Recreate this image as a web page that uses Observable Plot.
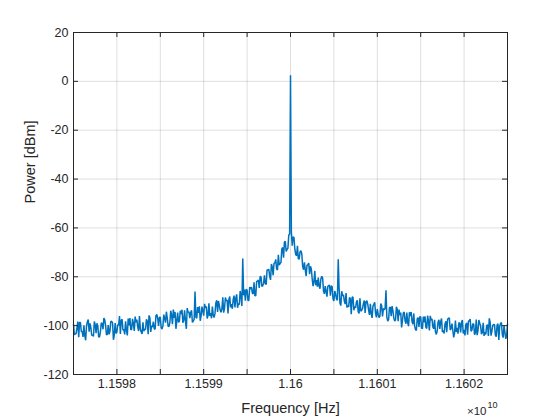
<!DOCTYPE html>
<html><head><meta charset="utf-8">
<script src="https://cdn.jsdelivr.net/npm/d3@7"></script>
<script src="https://cdn.jsdelivr.net/npm/@observablehq/plot@0.6"></script>
<style>body{margin:0;background:#fff}</style>
</head><body><div id="chart"></div>
<script>
const centerHz = 1.16e10;
// samples on the even 20 kHz grid (plus the spur at ±550 kHz)
const offsetKHz = [
-2500,-2480,-2460,-2440,-2420,-2400,-2380,-2360,-2340,-2320,
-2300,-2280,-2260,-2240,-2220,-2200,-2180,-2160,-2140,-2120,
-2100,-2080,-2060,-2040,-2020,-2000,-1980,-1960,-1940,-1920,
-1900,-1880,-1860,-1840,-1820,-1800,-1780,-1760,-1740,-1720,
-1700,-1680,-1660,-1640,-1620,-1600,-1580,-1560,-1540,-1520,
-1500,-1480,-1460,-1440,-1420,-1400,-1380,-1360,-1340,-1320,
-1300,-1280,-1260,-1240,-1220,-1200,-1180,-1160,-1140,-1120,
-1100,-1080,-1060,-1040,-1020,-1000,-980,-960,-940,-920,
-900,-880,-860,-840,-820,-800,-780,-760,-740,-720,
-700,-680,-660,-640,-620,-600,-580,-560,-550,-540,-520,
-500,-480,-460,-440,-420,-400,-380,-360,-340,-320,
-300,-280,-260,-240,-220,-200,-180,-160,-140,-120,
-100,-80,-60,-40,-20,
0,
20,40,60,80,100,
120,140,160,180,200,220,240,260,280,300,
320,340,360,380,400,420,440,460,480,500,
520,540,550,560,580,600,620,640,660,680,700,
720,740,760,780,800,820,840,860,880,900,
920,940,960,980,1000,1020,1040,1060,1080,1100,
1120,1140,1160,1180,1200,1220,1240,1260,1280,1300,
1320,1340,1360,1380,1400,1420,1440,1460,1480,1500,
1520,1540,1560,1580,1600,1620,1640,1660,1680,1700,
1720,1740,1760,1780,1800,1820,1840,1860,1880,1900,
1920,1940,1960,1980,2000,2020,2040,2060,2080,2100,
2120,2140,2160,2180,2200,2220,2240,2260,2280,2300,
2320,2340,2360,2380,2400,2420,2440,2460,2480,2500
];
const powerDbm = [
-99.4,-103.3,-100.9,-104.7,-98.8,-102.4,-99.9,-106.0,-98.4,-102.5,
-100.8,-103.8,-98.3,-103.1,-100.1,-104.6,-98.9,-101.5,-97.6,-103.8,
-99.8,-102.2,-98.3,-105.8,-98.9,-102.6,-99.8,-103.4,-97.4,-101.5,
-98.2,-104.0,-99.9,-101.7,-97.2,-102.2,-98.6,-100.5,-96.1,-102.6,
-98.6,-101.5,-97.4,-103.5,-96.8,-100.0,-98.4,-101.5,-95.4,-100.1,
-96.6,-101.4,-95.5,-98.8,-96.8,-100.4,-93.9,-99.4,-96.8,-101.3,
-94.6,-98.1,-95.3,-98.8,-93.7,-101.3,-94.6,-96.9,-93.7,-98.1,
-86.0,-97.0,-94.8,-98.0,-92.2,-95.9,-92.7,-97.1,-90.9,-94.9,
-92.2,-96.7,-90.7,-94.4,-91.6,-94.5,-88.4,-92.8,-89.8,-95.0,
-88.1,-91.2,-89.2,-92.5,-87.2,-90.9,-85.8,-92.0,-72.5,-87.6,-89.8,
-85.4,-89.7,-85.1,-86.6,-82.3,-87.7,-81.9,-84.6,-80.0,-83.7,
-79.4,-83.1,-77.2,-79.7,-74.8,-79.4,-74.3,-76.8,-71.0,-74.6,
-68.6,-72.2,-65.5,-68.8,-63.0,
2.5,
-67.3,-63.9,-70.8,-67.3,-72.8,
-69.3,-75.7,-74.1,-79.7,-75.0,-78.9,-76.8,-83.8,-77.6,-81.4,
-80.3,-84.9,-79.8,-85.7,-83.8,-88.1,-83.6,-87.7,-84.1,-89.9,
-87.1,-89.6,-72.8,-84.7,-91.8,-87.8,-89.9,-86.7,-91.8,-88.4,-95.3,
-88.3,-92.1,-90.3,-94.4,-88.8,-93.6,-90.9,-94.8,-89.8,-93.7,
-91.1,-96.8,-91.3,-95.0,-93.2,-96.7,-91.0,-96.2,-93.5,-85.5,
-98.1,-92.7,-96.1,-93.9,-98.1,-92.3,-98.2,-95.6,-100.7,-94.8,
-98.0,-94.6,-100.2,-96.1,-98.3,-95.0,-101.6,-97.2,-100.5,-96.4,
-101.2,-98.7,-100.7,-95.9,-102.0,-97.7,-100.5,-97.6,-103.6,-98.5,
-101.3,-97.1,-102.0,-99.3,-102.7,-97.0,-101.8,-99.2,-104.8,-97.9,
-100.9,-98.7,-102.8,-97.7,-101.7,-99.6,-103.7,-98.0,-102.3,-99.3,
-103.7,-97.5,-102.0,-99.0,-103.5,-98.8,-102.7,-100.0,-104.2,-98.6,
-102.3,-99.5,-103.8,-99.8,-105.9,-99.1,-103.6,-100.0,-105.4,-99.3
];
// samples on the odd 10 kHz positions in between
const offsetKHzB = [
-2490,-2470,-2450,-2430,-2410,-2390,-2370,-2350,-2330,-2310,
-2290,-2270,-2250,-2230,-2210,-2190,-2170,-2150,-2130,-2110,
-2090,-2070,-2050,-2030,-2010,-1990,-1970,-1950,-1930,-1910,
-1890,-1870,-1850,-1830,-1810,-1790,-1770,-1750,-1730,-1710,
-1690,-1670,-1650,-1630,-1610,-1590,-1570,-1550,-1530,-1510,
-1490,-1470,-1450,-1430,-1410,-1390,-1370,-1350,-1330,-1310,
-1290,-1270,-1250,-1230,-1210,-1190,-1170,-1150,-1130,-1110,
-1090,-1070,-1050,-1030,-1010,-990,-970,-950,-930,-910,
-890,-870,-850,-830,-810,-790,-770,-750,-730,-710,
-690,-670,-650,-630,-610,-590,-570,-530,-510,
-490,-470,-450,-430,-410,-390,-370,-350,-330,-310,
-290,-270,-250,-230,-210,-190,-170,-150,-130,-110,
-90,-70,-50,-30,-10,
10,30,50,70,90,
110,130,150,170,190,210,230,250,270,290,
310,330,350,370,390,410,430,450,470,490,
510,530,570,590,610,630,650,670,690,
710,730,750,770,790,810,830,850,870,890,
910,930,950,970,990,1010,1030,1050,1070,1090,
1110,1130,1150,1170,1190,1210,1230,1250,1270,1290,
1310,1330,1350,1370,1390,1410,1430,1450,1470,1490,
1510,1530,1550,1570,1590,1610,1630,1650,1670,1690,
1710,1730,1750,1770,1790,1810,1830,1850,1870,1890,
1910,1930,1950,1970,1990,2010,2030,2050,2070,2090,
2110,2130,2150,2170,2190,2210,2230,2250,2270,2290,
2310,2330,2350,2370,2390,2410,2430,2450,2470,2490
];
const powerDbmB = [
-103.8,-103.3,-98.3,-98.6,-102.4,-104.6,-104.1,-100.2,-97.5,-99.1,
-104.0,-104.4,-99.6,-99.0,-104.7,-102.5,-99.1,-96.9,-100.0,-103.6,
-103.6,-98.2,-98.9,-103.9,-103.2,-99.6,-96.1,-97.9,-101.9,-103.6,
-101.8,-97.1,-96.9,-101.5,-99.1,-96.3,-97.5,-102.2,-101.4,-103.4,
-102.3,-101.6,-98.1,-95.8,-102.6,-100.6,-101.2,-95.9,-96.9,-96.6,
-100.8,-100.1,-96.9,-94.3,-100.2,-98.8,-95.7,-93.4,-94.4,-98.1,
-98.7,-93.9,-93.5,-97.7,-98.3,-92.8,-94.3,-94.7,-98.7,-97.4,
-96.6,-92.4,-92.1,-96.0,-93.9,-91.1,-92.1,-95.9,-96.0,-97.0,
-95.7,-95.0,-89.6,-89.9,-93.7,-93.0,-94.7,-88.5,-89.5,-89.3,
-92.5,-93.1,-87.7,-88.8,-92.7,-91.4,-87.7,-85.2,-85.1,
-89.7,-84.2,-84.2,-87.0,-87.8,-81.8,-81.3,-79.9,-83.9,-82.6,
-82.9,-77.2,-76.9,-81.3,-76.0,-74.5,-72.9,-77.2,-75.2,-74.2,
-68.0,-65.8,-69.6,-68.3,-62.5,
-61.7,-63.6,-68.7,-71.4,-72.6,
-69.8,-70.6,-77.1,-77.1,-75.3,-74.4,-75.7,-80.9,-82.0,-83.4,
-84.0,-83.8,-80.9,-80.4,-87.0,-86.0,-83.9,-83.5,-83.7,-89.1,
-85.8,-89.1,-90.8,-85.9,-87.4,-91.2,-92.6,-92.3,-89.0,
-88.4,-93.7,-92.7,-89.6,-95.0,-94.1,-93.0,-89.7,-90.1,-91.2,
-95.6,-95.1,-92.0,-90.4,-96.6,-95.3,-96.1,-91.8,-93.0,-92.9,
-96.5,-97.5,-92.4,-92.0,-96.8,-97.7,-93.4,-93.4,-94.6,-97.9,
-94.4,-99.2,-98.7,-94.5,-94.4,-99.4,-100.1,-102.0,-96.7,-96.3,
-101.0,-96.3,-96.2,-101.2,-98.2,-96.0,-97.2,-101.3,-102.5,-102.2,
-97.6,-98.5,-102.6,-103.2,-98.2,-97.4,-96.9,-101.1,-102.0,-103.1,
-102.6,-103.3,-99.1,-98.7,-103.2,-104.0,-98.9,-98.2,-97.3,-101.8,
-99.3,-103.0,-103.9,-97.7,-100.0,-102.8,-104.2,-103.6,-99.6,-97.0,
-104.1,-99.9,-99.6,-104.5,-99.2,-100.3,-98.7,-104.9,-102.6,-104.2
];
const xTicks = [1.1598e10,1.15985e10,1.1599e10,1.15995e10,1.16e10,1.16005e10,1.1601e10,1.16015e10,1.1602e10];
const xTickLabels = ["1.1598","","1.1599","","1.16","","1.1601","","1.1602"];
const yTicks = [-120,-100,-80,-60,-40,-20,0,20];
const yTickLabels = ["-120","-100","-80","-60","-40","-20","0","20"];
const xLabel = "Frequency [Hz]";
const yLabel = "Power [dBm]";
const exponentBase = "\u00d710";
const exponent = "10";

const data = d3.sort(
  offsetKHz.map((o, i) => ({f: centerHz + o * 1e3, p: powerDbm[i]}))
    .concat(offsetKHzB.map((o, i) => ({f: centerHz + o * 1e3, p: powerDbmB[i]}))),
  d => d.f);

const W = 560, H = 420, mL = 73, mR = 53, mT = 32, mB = 46;
const innerW = W - mL - mR, innerH = H - mT - mB, tick = 5;
const ink = "#262626";
const font = "'Liberation Sans', Arial, Helvetica, sans-serif";

const chart = Plot.plot({
  width: W, height: H,
  marginLeft: mL, marginRight: mR, marginTop: mT, marginBottom: mB,
  style: {fontFamily: font, color: ink, background: "#fff"},
  x: {domain: [1.15975e10, 1.16025e10]},
  y: {domain: [-120, 20]},
  marks: [
    Plot.gridX(xTicks, {stroke: ink, strokeOpacity: 0.15}),
    Plot.gridY(yTicks, {stroke: ink, strokeOpacity: 0.15}),
    Plot.line(data, {x: "f", y: "p", stroke: "#0072BD", strokeWidth: 1.5, strokeLinejoin: "miter"}),
    Plot.frame({stroke: ink, strokeWidth: 1}),
    Plot.tickX(xTicks, {x: d => d, insetTop: innerH - tick, stroke: ink}),
    Plot.tickX(xTicks, {x: d => d, insetBottom: innerH - tick, stroke: ink}),
    Plot.tickY(yTicks, {y: d => d, insetRight: innerW - tick, stroke: ink}),
    Plot.tickY(yTicks, {y: d => d, insetLeft: innerW - tick, stroke: ink}),
    Plot.axisX({ticks: xTicks, tickSize: 0, tickPadding: 5, fontSize: 12.5,
      tickFormat: d => xTickLabels[xTicks.indexOf(d)], label: null}),
    Plot.axisY({ticks: yTicks, tickSize: 0, tickPadding: 5, fontSize: 12.5,
      tickFormat: d => yTickLabels[yTicks.indexOf(d)], label: null}),
    Plot.text([xLabel], {frameAnchor: "bottom", dy: 34, lineAnchor: "middle", fontSize: 14.5, fill: ink}),
    Plot.text([yLabel], {frameAnchor: "left", dx: -43, rotate: -90, lineAnchor: "middle", fontSize: 14.5, fill: ink}),
    Plot.text([exponentBase], {frameAnchor: "bottom-right", dx: -21, dy: 37, textAnchor: "end", lineAnchor: "middle", fontSize: 11.5, fill: ink}),
    Plot.text([exponent], {frameAnchor: "bottom-right", dx: -20, dy: 31, textAnchor: "start", lineAnchor: "middle", fontSize: 9, fill: ink})
  ]
});
document.getElementById("chart").appendChild(chart);
</script>
</body></html>
